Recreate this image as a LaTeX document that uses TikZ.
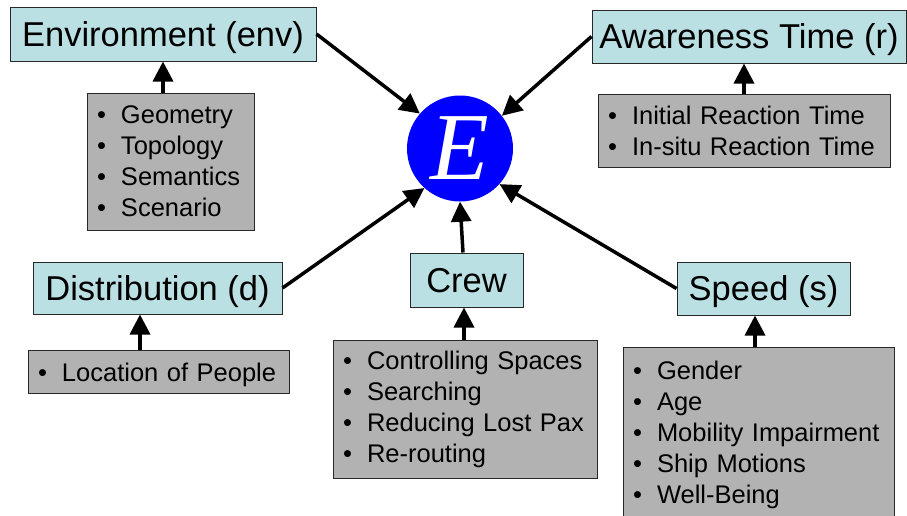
\documentclass[tikz,border=0pt]{standalone}
\usepackage{fontspec}
\setmainfont{Liberation Sans}
\newfontfamily\serifE{Liberation Serif}
\usetikzlibrary{arrows.meta}
\definecolor{mainfill}{RGB}{187,224,227}
\definecolor{subfill}{RGB}{178,178,178}
\definecolor{edgecol}{RGB}{40,40,40}
\definecolor{ecircle}{RGB}{0,0,255}
\newcommand{\bul}{\makebox[24pt][l]{\textbullet}}
\begin{document}
\begin{tikzpicture}[x=1pt,y=-1pt,
 mainbox/.style={draw=edgecol, line width=1pt, fill=mainfill, inner sep=0pt,
   text height=24.5pt, text depth=0pt, font=\fontsize{34.5}{40}\selectfont},
 subbox/.style={draw=edgecol, line width=1pt, fill=subfill, inner xsep=10pt, inner ysep=0pt, align=left, font=\fontsize{25.5}{31}\selectfont},
 link/.style={line width=3.5pt, -{Triangle[length=20pt,width=20pt]}},
]
\useasboundingbox (0,0) rectangle (907,515);

% central node
\node[circle, fill=ecircle, minimum size=106pt, inner sep=0pt, text=white,
      font=\serifE\itshape\fontsize{96}{96}\selectfont] (E) at (460,148.5) {E};

% main boxes
\node[mainbox, minimum width=306pt, minimum height=54pt] (env) at (163,34) {Environment (env)};
\node[mainbox, minimum width=314pt, minimum height=53pt] (aware) at (749,36.5) {Awareness Time (r)};
\node[mainbox, minimum width=249pt, minimum height=52pt] (dist) at (157.5,288) {Distribution (d)};
\node[mainbox, minimum width=113pt, minimum height=54pt] (crew) at (466.5,280) {Crew};
\node[mainbox, minimum width=173pt, minimum height=53pt] (speed) at (763.5,288.5) {Speed (s)};

% sub boxes
\node[subbox, text width=147pt, minimum height=137pt] (envsub) at (170.5,161.5)
  {\bul Geometry\\\bul Topology\\\bul Semantics\\\bul Scenario};
\node[subbox, text width=272pt, minimum height=73pt] (awaresub) at (744,130.5)
  {\bul Initial Reaction Time\\\bul In-situ Reaction Time};
\node[subbox, text width=241pt, minimum height=43pt, text height=19pt, text depth=0pt] (distsub) at (158.5,371.5)
  {\bul Location of People};
\node[subbox, text width=244pt, minimum height=138pt] (crewsub) at (465,409.5)
  {\bul Controlling Spaces\\\bul Searching\\\bul Reducing Lost Pax\\\bul Re-routing};
\node[subbox, text width=251pt, minimum height=175pt] (speedsub) at (758.5,434.5)
  {\bul Gender\\\bul Age\\\bul Mobility Impairment\\\bul Ship Motions\\\bul Well-Being};

% connectors to E
\draw[link] (env.east) -- (E.139);
\draw[link] (aware.west) -- (E.38.6);
\draw[link] (dist.east) -- (E.228.5);
\draw[link] ([xshift=-3.5pt]crew.north) -- (E.south);
\draw[link] (speed.west) -- (E.318.6);

% sub to main
\draw[link] (envsub.north -| env.south) -- (env.south);
\draw[link] (awaresub.north) -- (awaresub.north |- aware.south);
\draw[link] ([xshift=-18.5pt]distsub.north) -- ([xshift=-18.5pt]distsub.north |- dist.south);
\draw[link] ([xshift=-1pt]crewsub.north) -- ([xshift=-1pt]crewsub.north |- crew.south);
\draw[link] ([xshift=-3.5pt]speedsub.north) -- ([xshift=-3.5pt]speedsub.north |- speed.south);
\end{tikzpicture}
\end{document}
